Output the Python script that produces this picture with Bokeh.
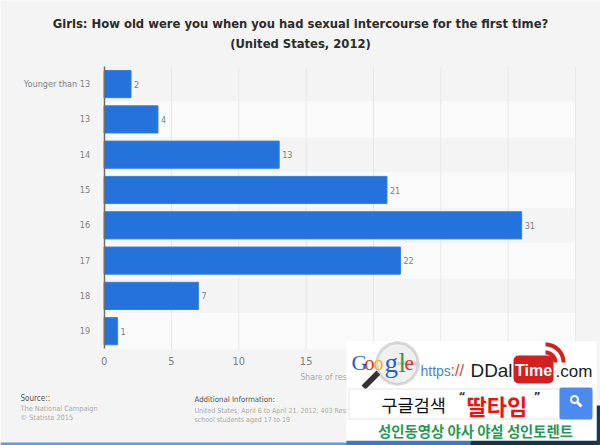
import math
from bokeh.plotting import figure
from bokeh.embed import file_html
from bokeh.resources import INLINE
from bokeh.models import ColumnDataSource, Range1d, Label, BoxAnnotation, PolyAnnotation, FixedTicker
from bokeh.core.properties import value

categories = ["Younger than 13", "13", "14", "15", "16", "17", "18", "19"]
rows = [1, 2, 3, 4, 5, 6, 7, 8]
shares = [2, 4, 13, 21, 31, 22, 7, 1]
light_rows = [2, 4, 6, 8]
x_ticks = [0, 5, 10, 15, 20, 25, 30, 35]
title_lines = ["Girls: How old were you when you had sexual intercourse for the first time?", "(United States, 2012)"]
BG = "#f4f4f4"
COND = "DejaVu Sans Condensed"
W, H = 600, 445
PX_X, X0 = 13.47, 103.6
PX_Y, Y1 = 35.3, 83.6

p = figure(width=W, height=H, output_backend="svg", toolbar_location=None,
           x_range=Range1d(-X0 / PX_X, (W - X0) / PX_X),
           y_range=Range1d(1 + (H - Y1) / PX_Y, 1 - Y1 / PX_Y),
           background_fill_color=BG, border_fill_color=BG, outline_line_color=None,
           min_border_left=0, min_border_right=0, min_border_top=0, min_border_bottom=0)

p.hbar(y=light_rows, left=0, right=35, height=1, color="#fafafa", level="underlay")
p.segment(x0=x_ticks[1:], y0=[0.5] * 7, x1=x_ticks[1:], y1=[8.5] * 7, line_color="#e8e8e8", line_width=1, level="underlay")
src = ColumnDataSource(dict(y=rows, v=shares, t=[str(s) for s in shares]))
p.hbar(y="y", left=0, right="v", height=0.77, source=src, fill_color="#2472dc", line_color="#3a80e0", line_width=1)
p.text(x="v", y="y", text="t", source=src, x_offset=3, text_baseline="middle", text_font_size="9px",
       text_color="#808080", text_font=value(COND))

p.ygrid.grid_line_color = None
p.xgrid.grid_line_color = None
p.xaxis.ticker = FixedTicker(ticks=x_ticks)
p.xaxis.fixed_location = 8.5
p.xaxis.major_tick_line_color = None
p.xaxis.minor_tick_line_color = None
p.xaxis.axis_line_color = None
p.xaxis.major_label_text_color = "#808080"
p.xaxis.major_label_text_font = COND
p.xaxis.major_label_text_font_size = "11px"
p.xaxis.major_label_standoff = 2
p.yaxis.ticker = FixedTicker(ticks=rows)
p.yaxis.major_label_overrides = dict(zip(rows, categories))
p.yaxis.fixed_location = 0
p.yaxis.bounds = (0.5, 8.5)
p.yaxis.major_tick_line_color = None
p.yaxis.minor_tick_line_color = None
p.yaxis.axis_line_color = "#6e6e6e"
p.yaxis.axis_line_width = 1.5
p.yaxis.major_label_text_color = "#808080"
p.yaxis.major_label_text_font = COND
p.yaxis.major_label_text_font_size = "9px"
p.yaxis.major_label_standoff = 8


def txt(x, y, s, size, color, bold=False, align="left", font="DejaVu Sans"):
    p.add_layout(Label(x=x, y=y, x_units="canvas", y_units="canvas", text=s, text_font=font,
                       text_font_size=f"{size}px", text_color=color, text_align=align, text_baseline="middle",
                       text_font_style="bold" if bold else "normal"))


def box(l, t, r, b, color, radius=0):
    p.add_layout(BoxAnnotation(left=l, right=r, top=t, bottom=b,
                               left_units="canvas", right_units="canvas", top_units="canvas", bottom_units="canvas",
                               fill_color=color, fill_alpha=1, line_color=None, border_radius=radius))


def poly(pts, fill, line=None, lw=1, fa=1.0):
    p.add_layout(PolyAnnotation(xs=[a for a, _ in pts], ys=[b for _, b in pts],
                                xs_units="canvas", ys_units="canvas", fill_color=fill, fill_alpha=fa,
                                line_color=line, line_width=lw))


def arc(cx, cy, r0, r1, a0, a1):
    n = 16
    outer = [(cx + r1 * math.cos(math.radians(a0 + (a1 - a0) * i / n)), cy + r1 * math.sin(math.radians(a0 + (a1 - a0) * i / n))) for i in range(n + 1)]
    inner = [(cx + r0 * math.cos(math.radians(a1 - (a1 - a0) * i / n)), cy + r0 * math.sin(math.radians(a1 - (a1 - a0) * i / n))) for i in range(n + 1)]
    return outer + inner


txt(300, 23, title_lines[0], 11.6, "#2b2b2b", True, "center")
txt(300, 43, title_lines[1], 11.6, "#2b2b2b", True, "center")
txt(300, 376, "Share of respondents", 8.5, "#a8a8a8", False, "left", COND)
txt(20, 398, "Source::", 8, "#555555", False, "left", COND)
txt(20, 408, "The National Campaign", 7.3, "#aaaaaa", False, "left", COND)
txt(20, 417, "© Statista 2015", 7.3, "#aaaaaa", False, "left", COND)
txt(194, 399, "Additional Information:", 7.8, "#555555", False, "left", COND)
txt(194, 410, "United States; April 6 to April 21, 2012; 403 Respondents; high", 7, "#aaaaaa", False, "left", COND)
txt(194, 419, "school students aged 17 to 19", 7, "#aaaaaa", False, "left", COND)
box(0, 442, 600, 445, "#5b9ae8")
box(346, 440, 470, 445, "#3f78c0")
box(470, 440, 600, 445, "#15324f")
box(596, 405, 600, 445, "#123a5c")

# overlay banner
box(346, 341, 596, 440, "#ffffff")
poly([(361, 385), (365, 389), (380, 374), (376, 370)], "#333333")
poly(arc(397, 363, 0, 21, 0, 360), "#f0f0f0", "#8a8a8a", 3)
for x, ch, size, c in [(351, "G", 22, "#2a5fc9"), (364, "o", 20, "#d9332a"), (373, "o", 20, "#eeb321"), (384, "g", 27, "#2a5fc9"), (398, "l", 27, "#3a9a3c"), (404, "e", 21, "#d9332a")]:
    txt(x, 362, ch, size, c, False, "left", "Liberation Serif")
txt(420, 370, "https", 14, "#3f86e0", False, "left", "Liberation Sans")
txt(450, 370, "://", 16, "#e0403a", False, "left", "Liberation Sans")
txt(470, 370, "DDal", 18.9, "#1c1c1c", False, "left", "Liberation Sans")
box(513, 355, 553, 383, "#d1201f", 5)
txt(533, 370, "Time", 16, "#ffffff", True, "center", "Liberation Sans")
txt(555, 371, ".com", 17, "#1c1c1c", False, "left", "Liberation Sans")
poly(arc(545, 362, 8, 12, -90, 0), "#d1201f")
poly(arc(545, 362, 16, 20, -90, 0), "#d1201f")
box(348, 388, 559, 419, "#e4e4e4")
box(349, 389, 559, 418, "#ffffff")
box(559, 387, 592, 419, "#4d8af0", 2)
poly(arc(574, 399, 2.5, 4.5, 0, 360), "#ffffff")
poly([(576, 403), (578, 401), (582, 405), (580, 407)], "#ffffff")
txt(381, 404, "구글검색", 17.5, "#111111", False, "left", "Noto Sans CJK KR")
txt(458, 396, "“", 11, "#333333", True)
txt(466, 404, "딸타임", 22, "#ee1111", True, "left", "Noto Sans CJK KR")
txt(533, 396, "”", 11, "#333333", True)
txt(475, 430, "성인동영상 야사 야설 성인토렌트", 14.4, "#1f9a53", True, "center", "Noto Sans CJK KR")

open("out.html", "w").write(file_html(p, INLINE))
